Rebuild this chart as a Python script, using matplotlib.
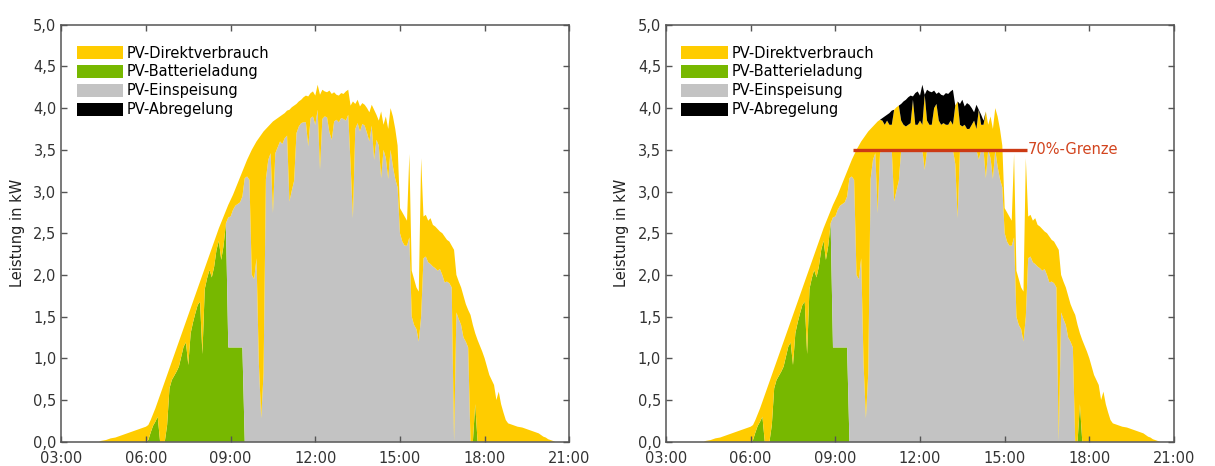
import numpy as np
import matplotlib
matplotlib.use("Agg")
import matplotlib.pyplot as plt
from matplotlib.patches import Patch

# 5-minute values from 04:20 to 20:30, one row per hour
start = "04:20"
step_min = 5

# PV generation in kW
pv_kw = [
    0.00, 0.01, 0.015, 0.02, 0.03, 0.04, 0.045, 0.05,
    0.06, 0.07, 0.08, 0.09, 0.10, 0.11, 0.12, 0.13, 0.14, 0.15, 0.16, 0.17,
    0.18, 0.20, 0.26, 0.33, 0.40, 0.48, 0.56, 0.64, 0.72, 0.80, 0.88, 0.96,
    1.04, 1.12, 1.20, 1.28, 1.36, 1.44, 1.52, 1.60, 1.68, 1.76, 1.84, 1.92,
    2.00, 2.08, 2.16, 2.24, 2.32, 2.40, 2.48, 2.56, 2.63, 2.70, 2.77, 2.84,
    2.90, 2.96, 3.03, 3.10, 3.17, 3.24, 3.31, 3.38, 3.44, 3.50, 3.55, 3.60,
    3.64, 3.68, 3.72, 3.75, 3.78, 3.81, 3.84, 3.86, 3.88, 3.90, 3.92, 3.94,
    3.97, 3.98, 4.01, 4.03, 4.05, 4.08, 4.10, 4.13, 4.15, 4.14, 4.18, 4.20,
    4.15, 4.28, 4.16, 4.22, 4.20, 4.19, 4.21, 4.17, 4.19, 4.16, 4.15, 4.18,
    4.17, 4.20, 4.22, 4.03, 4.08, 4.05, 4.10, 4.02, 4.06, 4.04, 4.00, 3.95,
    4.04, 3.98, 3.92, 3.85, 3.96, 3.80, 3.90, 3.75, 4.00, 3.90, 3.75, 3.55,
    2.80, 2.75, 2.70, 2.65, 3.45, 2.05, 1.95, 1.85, 1.80, 3.40, 2.70, 2.72,
    2.65, 2.68, 2.60, 2.58, 2.55, 2.52, 2.50, 2.46, 2.42, 2.40, 2.35, 2.30,
    2.00, 1.92, 1.85, 1.75, 1.65, 1.58, 1.52, 1.40, 1.30, 1.22, 1.15, 1.08,
    1.00, 0.90, 0.80, 0.74, 0.68, 0.50, 0.60, 0.45, 0.35, 0.26, 0.22, 0.21,
    0.20, 0.19, 0.18, 0.175, 0.17, 0.16, 0.15, 0.14, 0.13, 0.12, 0.11, 0.10,
    0.08, 0.06, 0.05, 0.03, 0.02, 0.01, 0.00,
]

# household load in kW
load_kw = [
    0.25, 0.24, 0.23, 0.22, 0.22, 0.21, 0.22, 0.23,
    0.22, 0.22, 0.21, 0.22, 0.23, 0.22, 0.22, 0.21, 0.22, 0.22, 0.23, 0.22,
    0.22, 0.18, 0.15, 0.14, 0.16, 0.18, 0.70, 0.75, 0.80, 0.60, 0.24, 0.22,
    0.25, 0.28, 0.30, 0.26, 0.22, 0.25, 0.60, 0.30, 0.25, 0.22, 0.20, 0.24,
    0.95, 0.25, 0.20, 0.18, 0.35, 0.30, 0.18, 0.15, 0.45, 0.35, 0.15, 0.15,
    0.20, 0.18, 0.20, 0.25, 0.30, 0.30, 0.15, 0.20, 0.30, 1.50, 1.60, 1.40,
    2.70, 3.40, 2.90, 0.60, 0.40, 0.35, 1.10, 0.40, 0.35, 0.30, 0.35, 0.30,
    0.30, 1.10, 1.00, 0.90, 0.35, 0.30, 0.28, 0.30, 0.32, 0.60, 0.30, 0.30,
    0.35, 0.30, 0.90, 0.35, 0.30, 0.30, 0.50, 0.55, 0.35, 0.30, 0.32, 0.30,
    0.30, 0.35, 0.30, 0.70, 1.40, 0.30, 0.28, 0.30, 0.25, 0.25, 0.30, 0.35,
    0.25, 0.60, 0.30, 0.30, 0.80, 0.30, 0.50, 0.60, 0.50, 0.60, 0.60, 0.50,
    0.30, 0.35, 0.35, 0.30, 1.00, 0.55, 0.55, 0.50, 0.60, 1.90, 0.50, 0.50,
    0.50, 0.55, 0.50, 0.50, 0.50, 0.45, 0.50, 0.55, 0.50, 0.50, 0.50, 2.30,
    0.45, 0.45, 0.45, 0.50, 0.45, 0.45, 1.80, 1.80, 0.85, 1.80, 1.80, 1.80,
    1.20, 1.15, 1.10, 1.00, 0.95, 0.90, 0.85, 0.80, 0.75, 0.70, 0.65, 0.60,
    0.55, 0.55, 0.52, 0.50, 0.50, 0.48, 0.50, 0.47, 0.45, 0.46, 0.45, 0.44,
    0.45, 0.44, 0.43, 0.42, 0.42, 0.41, 0.40,
]

# battery charging power cap, valid from the given time on
cap_from = ["04:20", "08:55", "09:30", "17:40", "17:45"]
cap_kw = [np.inf, 1.13, 0.0, 0.5, 0.0]

# feed-in limit: 70 % of the peak power
peak_kwp = 5.0
limit_share = 0.7
limit_from, limit_to = "09:37", "15:47"

labels = ["PV-Direktverbrauch", "PV-Batterieladung", "PV-Einspeisung", "PV-Abregelung"]
colors = ["#ffcc00", "#77b800", "#c3c3c3", "#000000"]


def hours(s):
    h, m = s.split(":")
    return int(h) + int(m) / 60


t = hours(start) + np.arange(len(pv_kw)) * step_min / 60
pv = np.array(pv_kw)
load = np.array(load_kw)

direct = np.minimum(load, pv)
surplus = pv - direct
cap_idx = np.searchsorted([hours(s) for s in cap_from], t + 1e-6, side="right") - 1
battery = np.minimum(surplus, np.array(cap_kw)[cap_idx])
feed = surplus - battery

limit_kw = limit_share * peak_kwp
feed_capped = np.minimum(feed, limit_kw)
curtailed = feed - feed_capped

plt.rcParams["font.family"] = "DejaVu Sans"
plt.rcParams["font.size"] = 10.5

fig = plt.figure(figsize=(12.15, 4.66), dpi=100)
W, H = 1215, 466
ax1 = fig.add_axes([61.3 / W, 24.3 / H, 508 / W, 417 / H])
ax2 = fig.add_axes([666 / W, 24.3 / H, 508 / W, 417 / H])

zero = np.zeros_like(pv)
for ax, fd, cu in [(ax1, feed, zero), (ax2, feed_capped, curtailed)]:
    ax.stackplot(t, battery, fd, direct, cu,
                 colors=[colors[1], colors[2], colors[0], colors[3]],
                 linewidth=0)
    ax.set_xlim(3, 21)
    ax.set_ylim(0, 5)
    ax.set_xticks(np.arange(3, 22, 3))
    ax.set_xticklabels([f"{h:02d}:00" for h in range(3, 22, 3)])
    yt = np.arange(0, 5.01, 0.5)
    ax.set_yticks(yt)
    ax.set_yticklabels([f"{v:.1f}".replace(".", ",") for v in yt])
    ax.tick_params(direction="in", length=4, width=1, top=True, right=True,
                   colors="#555555", labelcolor="#333333", labelsize=10.5)
    ax.tick_params(axis="x", pad=7)
    for sp in ax.spines.values():
        sp.set_color("#555555")
        sp.set_linewidth(1.1)
    ax.set_ylabel("Leistung in kW", color="#222222", labelpad=6)
    handles = [Patch(facecolor=c, edgecolor="none") for c in colors]
    ax.legend(handles, labels, loc="upper left", bbox_to_anchor=(0.03, 0.95),
              frameon=False, borderpad=0, borderaxespad=0, handlelength=3.2,
              handleheight=1.05, handletextpad=0.25, labelspacing=0.27,
              fontsize=10.5)

# 70 % limit line
ax2.plot([hours(limit_from), hours(limit_to)], [limit_kw, limit_kw],
         color="#cc3a14", linewidth=2.4, solid_capstyle="butt")
ax2.text(hours(limit_to) + 0.05, limit_kw, "70%-Grenze", color="#d2441e",
         va="center", ha="left", fontsize=10.5)

fig.savefig("out.png", dpi=100)
